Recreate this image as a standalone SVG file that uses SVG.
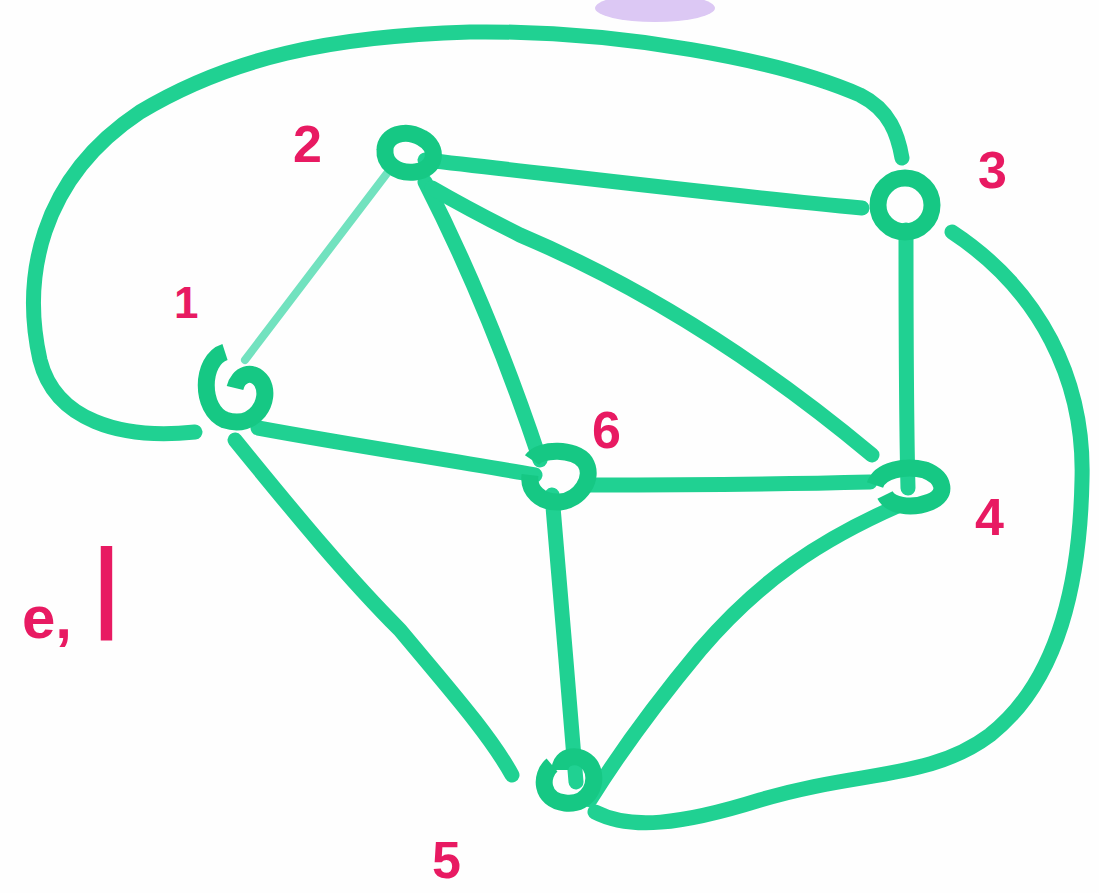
<svg xmlns="http://www.w3.org/2000/svg" width="1099" height="893" viewBox="0 0 1099 893">
<style>
.e{fill:none;stroke:#20d192;stroke-width:15;stroke-linecap:round;stroke-linejoin:round}
.thin{fill:none;stroke:#72e2bf;stroke-width:8;stroke-linecap:round}
.n{fill:none;stroke:#16c884;stroke-width:17}
.l{fill:#e81a62;font-family:"Liberation Sans",sans-serif;font-weight:bold;font-size:52px}
</style>
<rect width="1099" height="893" fill="#fefefe"/>
<ellipse cx="655" cy="8" rx="60" ry="14" fill="#dcc8f4"/>
<g id="connectors">
<path class="e" d="M195,432 C120,440 55,420 40,360 C22,280 38,180 140,112 C230,58 330,36 470,32 C620,30 780,60 860,95 C890,110 898,135 902,158"/>
<path class="thin" d="M388,172 L245,360"/>
<path class="e" d="M425,160 C560,175 720,195 862,208"/>
<path class="e" d="M425,182 C470,270 510,370 540,460"/>
<path class="e" d="M432,188 C470,210 490,220 520,235 C650,290 770,370 872,455"/>
<path class="e" d="M906,230 C906,320 906,410 908,488"/>
<path class="e" d="M952,232 C1040,290 1085,380 1082,480 C1080,580 1060,680 990,735 C930,780 860,770 760,800 C680,825 630,830 595,812"/>
<path class="e" d="M258,428 C350,445 450,460 535,475"/>
<path class="e" d="M235,440 C300,520 350,580 400,630 C450,690 490,735 512,775"/>
<path class="e" d="M590,485 C690,485 790,484 870,482"/>
<path class="e" d="M552,495 C560,580 568,690 576,782"/>
<path class="e" d="M900,505 C820,540 760,580 700,650 C650,710 615,760 590,800"/>
</g>
<g id="node-1"><path class="n" d="M225,352 C200,360 200,410 225,420 C255,430 272,400 262,382 C252,368 238,375 235,388"/></g>
<g id="node-2"><path class="n" d="M385,150 C385,135 405,128 422,138 C440,148 436,170 415,172 C395,174 384,162 385,150 Z"/></g>
<g id="node-3"><circle class="n" cx="905" cy="205" r="27"/></g>
<g id="node-4"><path class="n" d="M875,485 C880,470 905,465 925,470 C945,478 948,495 930,502 C910,510 890,505 885,495"/></g>
<g id="node-5"><path class="n" d="M552,765 C540,775 540,800 565,803 C590,806 600,780 590,765 C580,752 560,755 560,770"/></g>
<g id="node-6"><path class="n" d="M532,460 C540,448 575,448 585,462 C595,478 580,500 560,502 C540,503 528,490 530,475"/></g>
<g id="labels">
<text class="l" x="293" y="162">2</text>
<text class="l" x="978" y="188">3</text>
<text class="l" x="174" y="318" style="font-size:44px">1</text>
<text class="l" x="592" y="448">6</text>
<text class="l" x="975" y="535">4</text>
<text class="l" x="432" y="878">5</text>
<text class="l" x="22" y="638" style="font-size:60px">e,</text>
<text class="l" x="92" y="640" style="font-size:130px;font-weight:normal">l</text>
</g>
</svg>
